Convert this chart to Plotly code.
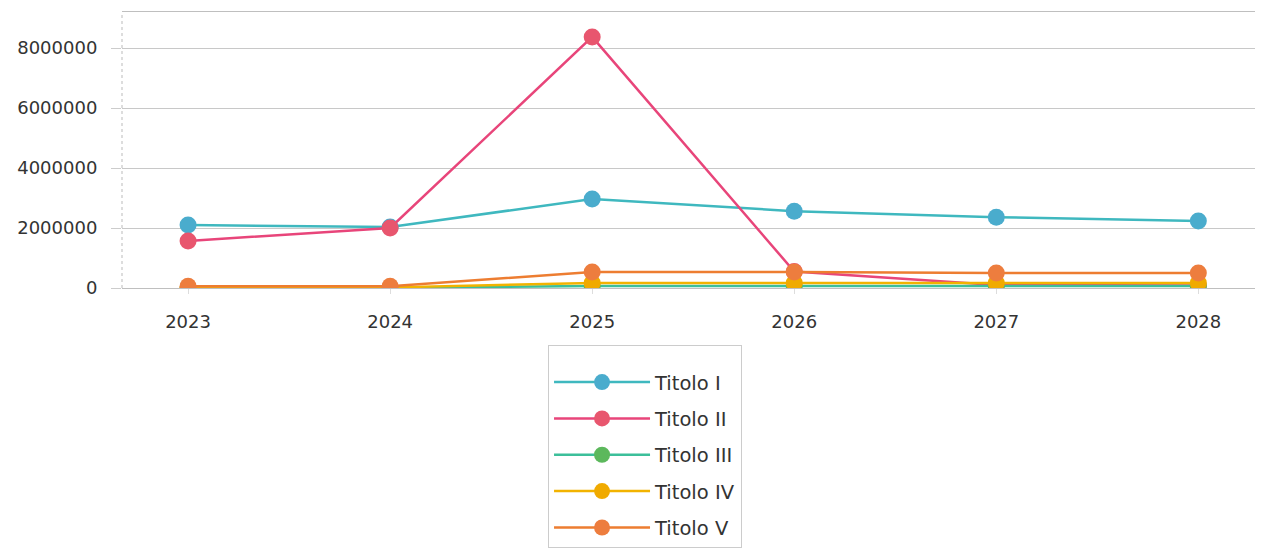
import plotly.graph_objects as go

years = ["2023", "2024", "2025", "2026", "2027", "2028"]
names = ["Titolo I", "Titolo II", "Titolo III", "Titolo IV", "Titolo V"]
titolo_1 = [2100000, 2030000, 2970000, 2560000, 2360000, 2230000]
titolo_2 = [1570000, 2000000, 8370000, 550000, 100000, 80000]
titolo_3 = [10000, 10000, 70000, 70000, 70000, 70000]
titolo_4 = [20000, 20000, 170000, 170000, 170000, 170000]
titolo_5 = [60000, 60000, 530000, 530000, 500000, 500000]
series = [titolo_1, titolo_2, titolo_3, titolo_4, titolo_5]

line_colors = ["#3fb8bf", "#e8457a", "#3cbf9a", "#f2b300", "#ed7d31"]
marker_colors = ["#4aaccd", "#e8566e", "#5cb85c", "#f0aa00", "#ed7d3e"]

fig = go.Figure()
for i, (nm, vals) in enumerate(zip(names, series)):
    fig.add_trace(go.Scatter(
        x=years, y=vals, name=nm, mode="lines+markers",
        legendgroup=nm,
        line=dict(color=line_colors[i], width=2.5),
        marker=dict(color=marker_colors[i], size=17),
    ))

fig.update_layout(
    width=1255, height=551,
    margin=dict(l=114, r=0, t=4, b=271),
    paper_bgcolor="white", plot_bgcolor="white",
    font=dict(family="DejaVu Sans, sans-serif", size=18, color="#333333"),
    showlegend=True,
    legend=dict(
        x=0.4584, xanchor="center", y=-0.2065, yanchor="top",
        bordercolor="#cccccc", borderwidth=1,
        font=dict(size=19.5, color="#333333"),
        title=dict(text=" ", font=dict(size=13)),
        tracegroupgap=8, itemwidth=96,
        traceorder="grouped",
    ),
    xaxis=dict(
        type="category", range=[-0.327, 5.32],
        showgrid=False, showline=True, mirror=True, linecolor="#bfbfbf", linewidth=1,
        ticks="outside", ticklen=5, tickcolor="#dddddd",
        tickfont=dict(size=18, color="#333333"), ticklabelstandoff=12,
    ),
    yaxis=dict(
        range=[0, 9200000], dtick=2000000, tickformat="d",
        showgrid=True, gridcolor="#c8c8c8", gridwidth=1,
        zeroline=False, showline=False,
        ticks="outside", ticklen=10, tickcolor="#cccccc",
        tickfont=dict(size=18, color="#333333"), ticklabelstandoff=10,
    ),
    shapes=[dict(type="line", xref="paper", yref="paper", x0=0, x1=0, y0=0, y1=1,
                 line=dict(color="#bbbbbb", width=1, dash="dot"))],
)

fig.write_html("out.html")
